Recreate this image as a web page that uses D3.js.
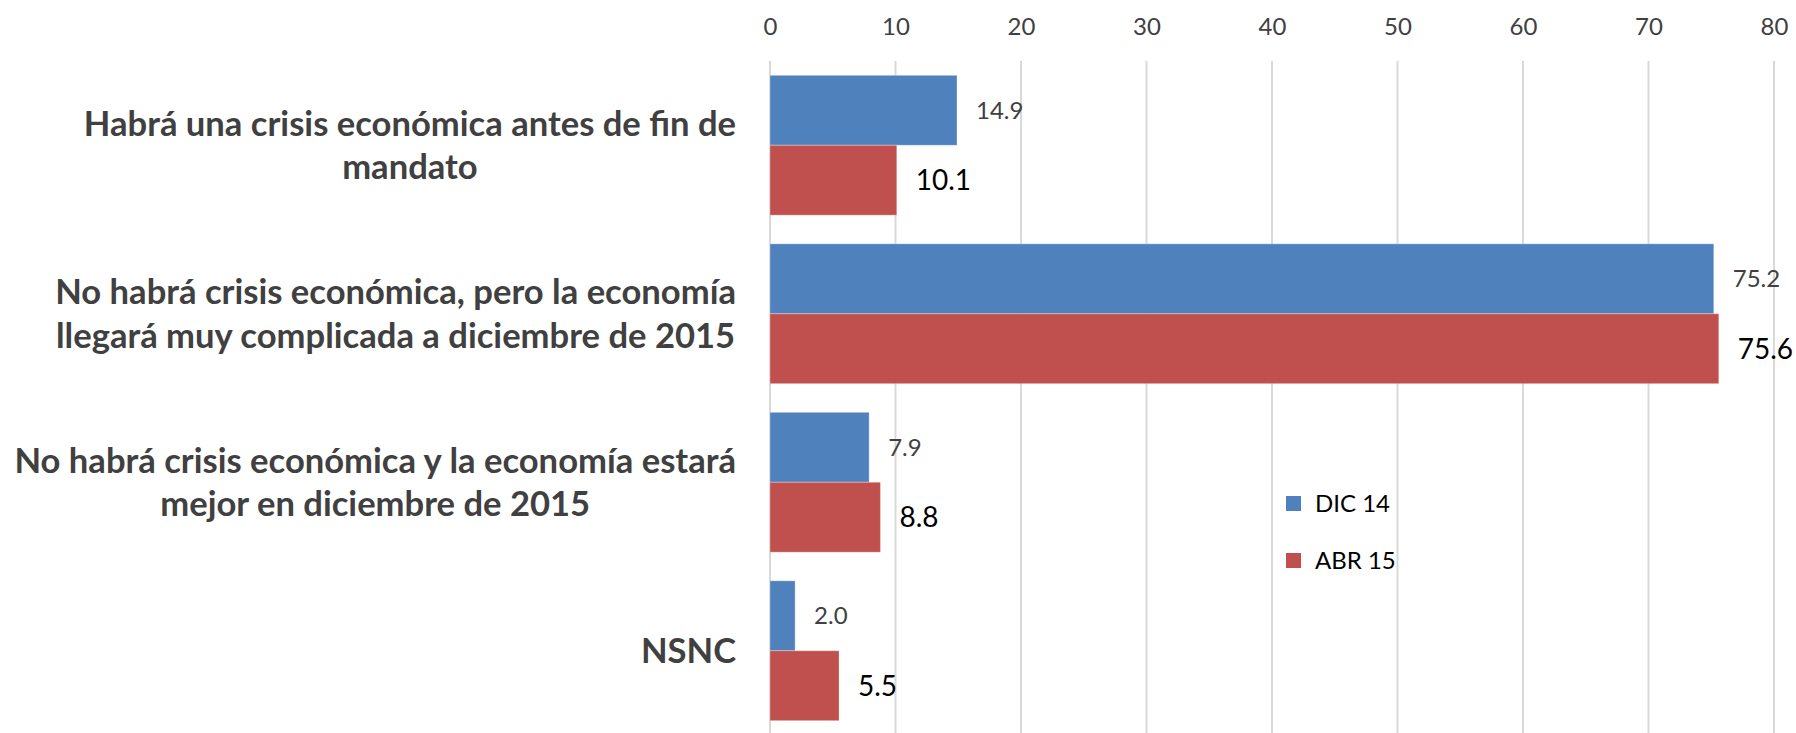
<!DOCTYPE html>
<html>
<head>
<meta charset="utf-8">
<script src="https://cdn.jsdelivr.net/npm/d3@7"></script>
<style>
  html, body { margin: 0; padding: 0; background: #fff; }
  svg { display: block; font-family: Lato, "Open Sans", sans-serif; }
</style>
</head>
<body>
<svg id="chart" width="1796" height="733"></svg>
<script>
const CATEGORIES = [
  'Habrá una crisis económica antes de fin de\nmandato',
  'No habrá crisis económica, pero la economía\nllegará muy complicada a diciembre de 2015',
  'No habrá crisis económica y la economía estará\nmejor en diciembre de 2015',
  'NSNC'
];
const SERIES = ['DIC 14', 'ABR 15'];
const DIC_14 = [14.9, 75.2, 7.9, 2.0];
const ABR_15 = [10.1, 75.6, 8.8, 5.5];
const X_TICKS = [0, 10, 20, 30, 40, 50, 60, 70, 80];

const COLORS = ['#4f81bd', '#c0504d'];
const WIDTH = 1796, HEIGHT = 733;
const PLOT_LEFT = 770, PLOT_RIGHT = 1774;
const PLOT_TOP = 61, PLOT_BOTTOM = 735;
const LABEL_RIGHT = 736;

const svg = d3.select('#chart');
const values = [DIC_14, ABR_15];

const x = d3.scaleLinear().domain([0, 80]).range([PLOT_LEFT, PLOT_RIGHT]);
const y = d3.scaleBand().domain(CATEGORIES).range([PLOT_TOP, PLOT_BOTTOM])
  .paddingInner(0.17).paddingOuter(0.085);
const ySub = d3.scaleBand().domain(SERIES).range([0, y.bandwidth()]);

// gridlines
svg.append('g')
  .selectAll('line')
  .data(X_TICKS)
  .join('line')
  .attr('x1', d => x(d)).attr('x2', d => x(d))
  .attr('y1', PLOT_TOP).attr('y2', HEIGHT)
  .attr('stroke', '#d9d9d9')
  .attr('stroke-width', 2);

// top axis
const axis = d3.axisTop(x).tickValues(X_TICKS).tickSize(0).tickPadding(0);
const axisG = svg.append('g').attr('transform', 'translate(0, 35)').call(axis);
axisG.select('.domain').remove();
axisG.selectAll('text')
  .attr('fill', '#404040')
  .attr('font-size', '24px')
  .attr('font-family', 'Lato, sans-serif');

// bars
const rows = CATEGORIES.map((c, i) => ({ cat: c, vals: SERIES.map((s, j) => ({ s, j, v: values[j][i] })) }));

const groups = svg.append('g')
  .selectAll('g')
  .data(rows)
  .join('g')
  .attr('transform', d => `translate(0, ${y(d.cat)})`);

groups.selectAll('rect')
  .data(d => d.vals)
  .join('rect')
  .attr('x', x(0))
  .attr('y', d => ySub(d.s))
  .attr('width', d => x(d.v) - x(0))
  .attr('height', ySub.bandwidth())
  .attr('fill', d => COLORS[d.j])
  .attr('stroke', 'rgba(255,255,255,0.3)')
  .attr('stroke-width', 1);

groups.selectAll('text.val')
  .data(d => d.vals)
  .join('text')
  .attr('class', 'val')
  .attr('x', d => x(d.v) + 19)
  .attr('y', d => ySub(d.s) + ySub.bandwidth() / 2)
  .attr('dy', '0.35em')
  .attr('font-size', d => d.j === 0 ? '24px' : '28px')
  .attr('fill', d => d.j === 0 ? '#404040' : '#000')
  .text(d => d.v.toFixed(1));

// category labels: block right-aligned, lines centered within block
const labelG = svg.append('g');
CATEGORIES.forEach(cat => {
  const lines = cat.split('\n');
  const cy = y(cat) + y.bandwidth() / 2;
  const lineH = 43.5;
  const g = labelG.append('g');
  const texts = g.selectAll('text')
    .data(lines)
    .join('text')
    .attr('y', (d, i) => cy + (i - (lines.length - 1) / 2) * lineH)
    .attr('dy', '0.35em')
    .attr('font-size', '34.6px')
    .attr('font-weight', 'bold')
    .attr('fill', '#404040')
    .attr('text-anchor', 'middle')
    .text(d => d);
  const blockW = d3.max(texts.nodes(), n => n.getComputedTextLength());
  texts.attr('x', LABEL_RIGHT - blockW / 2);
});

// legend
const legend = svg.append('g').attr('transform', 'translate(1286, 496)');
const li = legend.selectAll('g')
  .data(SERIES)
  .join('g')
  .attr('transform', (d, i) => `translate(0, ${i * 57})`);
li.append('rect')
  .attr('width', 15).attr('height', 15)
  .attr('fill', (d, i) => COLORS[i]);
li.append('text')
  .attr('x', 29).attr('y', 8)
  .attr('dy', '0.35em')
  .attr('font-size', '24px')
  .attr('fill', '#000')
  .text(d => d);
</script>
</body>
</html>
